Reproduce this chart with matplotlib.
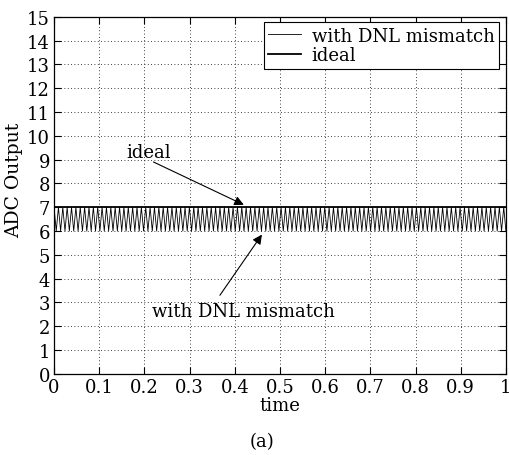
import numpy as np
import matplotlib
matplotlib.use('Agg')
import matplotlib.pyplot as plt

plt.rcParams['font.family'] = 'DejaVu Serif'
plt.rcParams['font.size'] = 13

# one period of the DNL-affected output code, repeated over the time span
dnl_period = [7.0, 6.0]
n_periods = 104
ideal_level = [7.0, 7.0]
ideal_time = [0.0, 1.0]

y_ticks = list(range(0, 16))
x_ticks = [0, 0.1, 0.2, 0.3, 0.4, 0.5, 0.6, 0.7, 0.8, 0.9, 1]
x_tick_labels = ['0', '0.1', '0.2', '0.3', '0.4', '0.5', '0.6', '0.7', '0.8', '0.9', '1']

dnl_out = np.tile(dnl_period, n_periods)
t = np.linspace(0, 1, len(dnl_out))

fig = plt.figure(figsize=(5.10, 4.56), dpi=100)
ax = fig.add_axes([0.106, 0.178, 0.886, 0.783])

ax.plot(t, dnl_out, color='black', linewidth=0.6, label='with DNL mismatch')
ax.plot(ideal_time, ideal_level, color='black', linewidth=1.3, label='ideal')

ax.set_xlim(0, 1)
ax.set_ylim(0, 15)
ax.set_xticks(x_ticks)
ax.set_xticklabels(x_tick_labels)
ax.set_yticks(y_ticks)
ax.tick_params(direction='in', top=True, right=True, length=5, pad=3)
ax.grid(True, linestyle=(0, (1, 3)), color='black', linewidth=0.6)
for s in ax.spines.values():
    s.set_linewidth(0.9)

ax.set_xlabel('time', labelpad=0)
ax.set_ylabel('ADC Output', fontsize=13.5)
ax.yaxis.set_label_coords(-0.068, 0.545)

leg = ax.legend(loc='upper right', bbox_to_anchor=(0.985, 0.985), fancybox=False,
                edgecolor='black', framealpha=1, handlelength=1.8,
                borderpad=0.25, labelspacing=0.1, handletextpad=0.6, borderaxespad=0)
leg.get_frame().set_linewidth(0.8)

arrow = dict(arrowstyle='-|>', color='black', lw=0.8, shrinkA=0, shrinkB=0, mutation_scale=14)

ax.text(0.21, 9.33, 'ideal', ha='center', va='center')
ax.annotate('', xy=(0.42, 7.1), xytext=(0.22, 8.9), arrowprops=arrow)

ax.text(0.42, 2.65, 'with DNL mismatch', ha='center', va='center')
ax.annotate('', xy=(0.46, 5.85), xytext=(0.367, 3.3), arrowprops=arrow)

fig.text(0.514, 0.031, '(a)', ha='center', va='center')

fig.savefig('out.png', dpi=100)
